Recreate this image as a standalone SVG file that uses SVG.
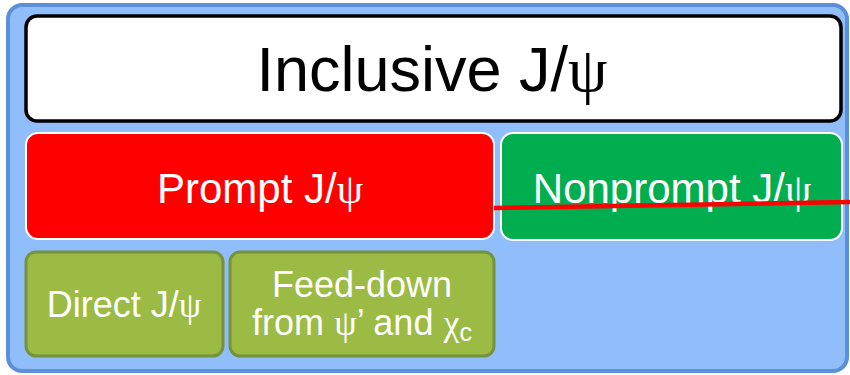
<svg xmlns="http://www.w3.org/2000/svg" width="850" height="375" viewBox="0 0 850 375">
<defs>
<style>
text{font-family:"Liberation Sans",Arial,sans-serif;text-anchor:middle}
.psi{font-family:"Liberation Serif","DejaVu Serif",serif}
.sub{fill:#9BBB45;stroke:#76923C;stroke-width:3}
.w{fill:#ffffff}
</style>
</defs>
<rect x="8" y="5" width="839" height="366" rx="14" fill="#8FBEFA" stroke="#5B8FD8" stroke-width="4"/>
<g id="inclusive">
<rect x="26" y="16" width="815" height="105" rx="11" fill="#ffffff" stroke="#000000" stroke-width="3.5"/>
<text x="432" y="91" font-size="63" fill="#000000">Inclusive J/<tspan class="psi">ψ</tspan></text>
</g>
<g id="prompt">
<rect x="26" y="133" width="468" height="106" rx="12" fill="#FF0000" stroke="#ffffff" stroke-width="2"/>
<text class="w" x="260" y="203" font-size="42">Prompt J/<tspan class="psi">ψ</tspan></text>
</g>
<g id="nonprompt">
<rect x="501" y="133" width="341" height="107" rx="12" fill="#00AE4F" stroke="#ffffff" stroke-width="2"/>
<text class="w" x="672" y="203" font-size="42">Nonprompt J/<tspan class="psi">ψ</tspan></text>
</g>
<g id="direct">
<rect class="sub" x="26" y="252" width="197" height="104" rx="10"/>
<text class="w" x="124" y="317" font-size="36">Direct J/<tspan class="psi">ψ</tspan></text>
</g>
<g id="feeddown">
<rect class="sub" x="230" y="252" width="264" height="104" rx="10"/>
<text class="w" x="362" y="297" font-size="36">Feed-down</text>
<text class="w" x="362" y="335" font-size="36">from <tspan class="psi">ψ</tspan>’ and <tspan class="psi">χ</tspan><tspan font-size="25" dy="6">c</tspan></text>
</g>
<g id="connectors">
<line x1="494" y1="208" x2="850" y2="202" stroke="#FF0000" stroke-width="4.5"/>
</g>
</svg>
